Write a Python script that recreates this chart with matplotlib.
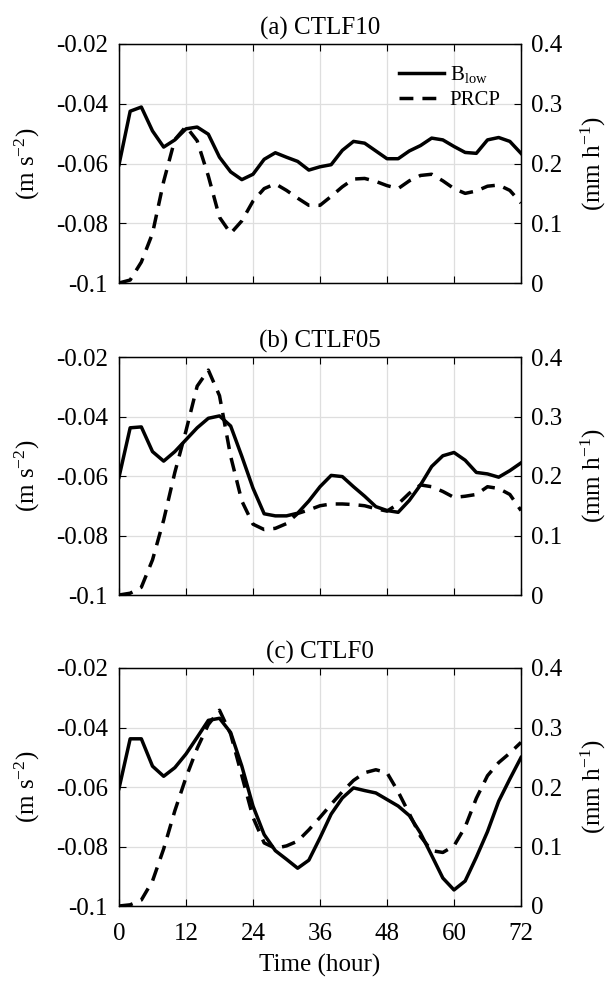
import matplotlib
matplotlib.use("Agg")
import matplotlib.pyplot as plt
import numpy as np

plt.rcParams['font.family'] = ['Liberation Serif', 'DejaVu Serif']
plt.rcParams['mathtext.fontset'] = 'custom'
plt.rcParams['mathtext.rm'] = 'Liberation Serif'
plt.rcParams['mathtext.it'] = 'Liberation Serif:italic'

# Time axis (hours), 2-hourly output
hours = list(range(0, 73, 2))

titles = ["(a) CTLF10", "(b) CTLF05", "(c) CTLF0"]

# Low-level buoyancy B_low (m s^-2)
blow_f10 = [-0.0604, -0.0425, -0.0411, -0.0491, -0.0545, -0.0521, -0.0484, -0.0478,
            -0.0502, -0.0579, -0.0628, -0.0654, -0.0636, -0.0586, -0.0564, -0.0579,
            -0.0593, -0.0622, -0.0611, -0.0604, -0.0556, -0.0526, -0.0532, -0.0558,
            -0.0584, -0.0584, -0.0558, -0.0540, -0.0515, -0.0521, -0.0543, -0.0563,
            -0.0566, -0.0521, -0.0513, -0.0526, -0.0566]
blow_f05 = [-0.0604, -0.0438, -0.0435, -0.0518, -0.0550, -0.0518, -0.0478, -0.0438,
            -0.0406, -0.0398, -0.0432, -0.0534, -0.0641, -0.0727, -0.0734, -0.0734,
            -0.0725, -0.0684, -0.0636, -0.0598, -0.0602, -0.0636, -0.0668, -0.0703,
            -0.0716, -0.0722, -0.0682, -0.0630, -0.0568, -0.0532, -0.0521, -0.0547,
            -0.0588, -0.0593, -0.0604, -0.0582, -0.0556]
blow_f0 = [-0.0605, -0.0438, -0.0438, -0.0530, -0.0564, -0.0535, -0.0489, -0.0433,
           -0.0376, -0.0369, -0.0417, -0.0530, -0.0664, -0.0760, -0.0814, -0.0843,
           -0.0873, -0.0846, -0.0771, -0.0691, -0.0637, -0.0603, -0.0612, -0.0620,
           -0.0642, -0.0664, -0.0696, -0.0755, -0.0830, -0.0906, -0.0946, -0.0916,
           -0.0836, -0.0750, -0.0648, -0.0573, -0.0501]

# Precipitation rate PRCP (mm h^-1)
prcp_f10 = [0.000, 0.005, 0.035, 0.083, 0.170, 0.240, 0.262, 0.238, 0.179, 0.110,
            0.083, 0.104, 0.137, 0.158, 0.166, 0.155, 0.142, 0.130, 0.130, 0.145,
            0.161, 0.174, 0.175, 0.170, 0.163, 0.158, 0.171, 0.180, 0.182, 0.171,
            0.158, 0.150, 0.154, 0.162, 0.164, 0.155, 0.134]
prcp_f05 = [0.000, 0.003, 0.013, 0.059, 0.126, 0.206, 0.276, 0.351, 0.378, 0.335,
            0.233, 0.158, 0.119, 0.110, 0.112, 0.120, 0.137, 0.143, 0.150, 0.153,
            0.153, 0.152, 0.150, 0.145, 0.141, 0.153, 0.171, 0.185, 0.182, 0.174,
            0.164, 0.166, 0.169, 0.182, 0.179, 0.169, 0.142]
prcp_f0 = [0.000, 0.002, 0.010, 0.042, 0.096, 0.160, 0.216, 0.265, 0.305, 0.329,
           0.289, 0.219, 0.149, 0.106, 0.097, 0.101, 0.109, 0.128, 0.149, 0.171,
           0.192, 0.211, 0.224, 0.229, 0.224, 0.192, 0.155, 0.117, 0.093, 0.090,
           0.101, 0.133, 0.181, 0.219, 0.241, 0.257, 0.275]

blow_all = [blow_f10, blow_f05, blow_f0]
prcp_all = [prcp_f10, prcp_f05, prcp_f0]

xticks = [0, 12, 24, 36, 48, 60, 72]
left_ticks = [-0.1, -0.08, -0.06, -0.04, -0.02]
left_labels = ["-0.1", "-0.08", "-0.06", "-0.04", "-0.02"]
right_ticks = [0, 0.1, 0.2, 0.3, 0.4]
right_labels = ["0", "0.1", "0.2", "0.3", "0.4"]

FS = 18
W, H = 610, 985
fig = plt.figure(figsize=(W / 100, H / 100), dpi=100)

ax_left = 119 / W
ax_width = (521 - 119) / W
panel_px = [(44, 283), (357, 595), (668, 906)]

grid_color = "#dedede"

for i, (top, bot) in enumerate(panel_px):
    ax = fig.add_axes([ax_left, 1 - bot / H, ax_width, (bot - top) / H])
    ax2 = ax.twinx()

    ax.set_xlim(0, 72)
    ax.set_ylim(-0.1, -0.02)
    ax2.set_ylim(0, 0.4)

    ax.set_xticks(xticks)
    ax.set_yticks(left_ticks)
    ax.set_yticklabels(left_labels)
    ax2.set_yticks(right_ticks)
    ax2.set_yticklabels(right_labels)

    ax.grid(True, color=grid_color, linewidth=0.9)
    ax.set_axisbelow(True)

    ax.tick_params(axis="x", direction="in", length=5, width=0.8, top=True,
                   labelsize=FS, pad=12)
    ax.tick_params(axis="y", direction="in", length=5, width=0.8, labelsize=FS, pad=8)
    ax2.tick_params(axis="y", direction="in", length=5, width=0.8, labelsize=FS, pad=7)

    if i < 2:
        ax.set_xticklabels([])
    else:
        ax.set_xticklabels([str(t) for t in xticks])
        ax.set_xlabel("Time (hour)", fontsize=FS, labelpad=7)

    for sp in list(ax.spines.values()) + list(ax2.spines.values()):
        sp.set_linewidth(0.9)
        sp.set_color("black")

    l1, = ax.plot(hours, blow_all[i], color="black", linewidth=2.5, linestyle="-",
                  label=r"B$_{\mathrm{low}}$", zorder=3)
    l2, = ax2.plot(hours, prcp_all[i], color="black", linewidth=2.5,
                   linestyle=(0, (4.0, 2.6)), label="PRCP", zorder=3)

    ax.set_ylabel(r"(m s$^{-2}$)", fontsize=FS, labelpad=10)
    ax2.set_ylabel(r"(mm h$^{-1}$)", fontsize=FS, labelpad=12)
    ax.set_title(titles[i], fontsize=FS, pad=7)

    if i == 0:
        leg = ax2.legend([l1, l2], [r"B$_{\mathrm{low}}$", "PRCP"], loc="upper right",
                         bbox_to_anchor=(0.97, 0.95), frameon=False, fontsize=FS - 3,
                         handlelength=2.2, handletextpad=0.25, labelspacing=0.25,
                         borderaxespad=0.0)

fig.savefig("out.png", dpi=100)
